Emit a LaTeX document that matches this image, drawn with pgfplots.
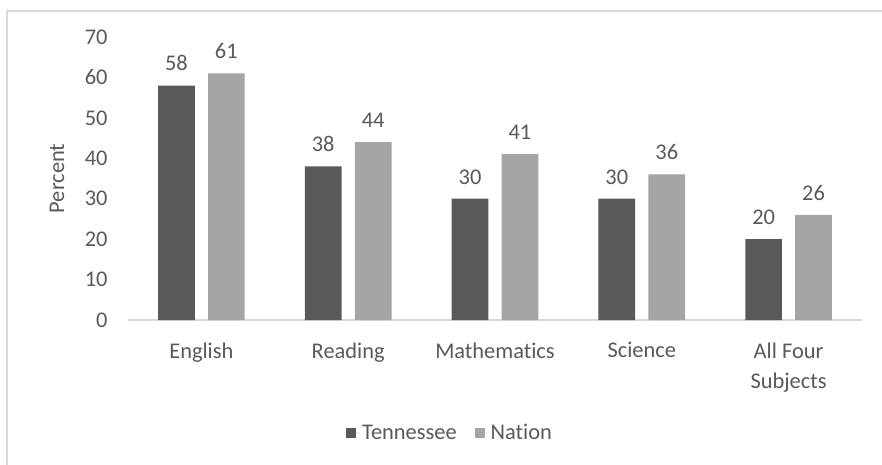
\documentclass[border=0pt]{standalone}
\usepackage{pgfplots}
\pgfplotsset{compat=1.18}
\usepackage{fontspec}
\setmainfont[Ligatures={NoCommon}]{Carlito}
\definecolor{dark}{HTML}{595959}
\definecolor{light}{HTML}{A5A5A5}
\definecolor{txt}{HTML}{595959}
\definecolor{framec}{HTML}{D9D9D9}
\begin{document}
\begin{tikzpicture}[x=1bp,y=1bp]
\begin{axis}[
  at={(128bp,145bp)}, anchor=south west,
  scale only axis, width=734bp, height=283bp,
  xmin=-0.5, xmax=4.5, ymin=0, ymax=70,
  ytick={0,10,...,70},
  xtick={0,1,2,3,4},
  xticklabels={English,Reading,Mathematics,Science,{All Four\\Subjects}},
  axis x line*=bottom, axis y line*=left,
  y axis line style={draw=none},
  x axis line style={draw=framec, line width=1.2bp},
  major tick length=0pt,
  /pgf/number format/assume math mode=true,
  xticklabel style={align=center, text=txt, font=\fontsize{22.5}{31}\selectfont, yshift=-19bp},
  yticklabel style={text=txt, font=\fontsize{22.5}{24}\selectfont, xshift=-17bp},
  ylabel={Percent},
  ylabel style={at={(axis description cs:-0.0967,0.5)}, anchor=center, text=txt, font=\fontsize{22.5}{24}\selectfont},
  ybar, bar width=0.25,
  nodes near coords,
  nodes near coords style={text=txt, font=\fontsize{22.5}{24}\selectfont, yshift=11bp},
  legend style={at={(axis description cs:0.4387,-0.399)}, anchor=center, draw=none, fill=none,
    font=\fontsize{22.5}{24}\selectfont, text=txt, legend columns=2,
    /tikz/every even column/.append style={column sep=16bp}},
  legend image code/.code={\fill[#1] (0bp,-5bp) rectangle (10bp,5bp); \path (0bp,0bp) -- (14bp,0bp);},
]
\addplot[fill=dark, draw=none, bar shift=-0.17] coordinates {(0,58) (1,38) (2,30) (3,30) (4,20)};
\addplot[fill=light, draw=none, bar shift=0.17] coordinates {(0,61) (1,44) (2,41) (3,36) (4,26)};
\legend{Tennessee, Nation}
\end{axis}
\draw[framec, line width=1.5bp] (7bp,0) -- (7bp,454bp) -- (882bp,454bp);
\pgfresetboundingbox
\useasboundingbox (0,0) rectangle (882bp,465bp);
\end{tikzpicture}
\end{document}
